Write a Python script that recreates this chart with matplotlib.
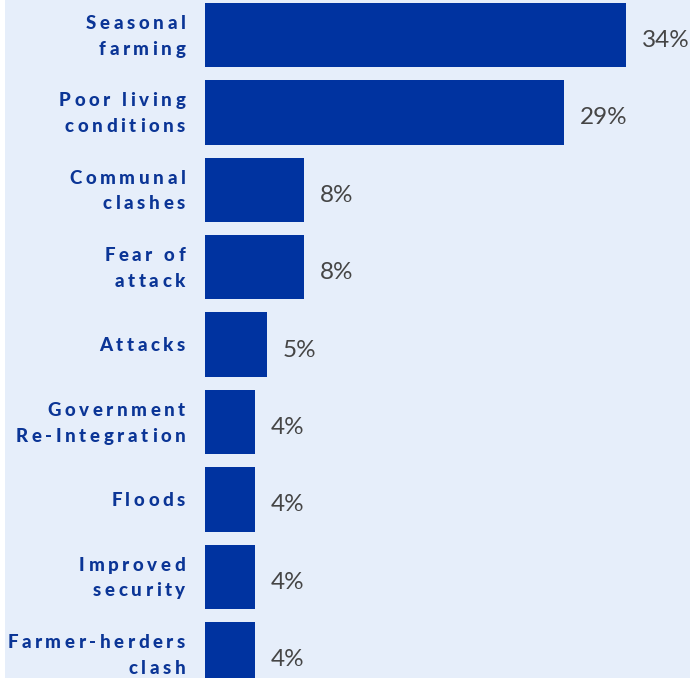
import numpy as np
import matplotlib
matplotlib.use('Agg')
import matplotlib.pyplot as plt
from matplotlib.font_manager import FontProperties
from matplotlib.textpath import TextToPath
from matplotlib.transforms import offset_copy

# data
categories = ['Seasonal\nfarming', 'Poor living\nconditions', 'Communal\nclashes',
              'Fear of\nattack', 'Attacks', 'Government\nRe-Integration',
              'Floods', 'Improved\nsecurity', 'Farmer-herders\nclash']
shares = [34, 29, 8, 8, 5, 4, 4, 4, 4]

bar_color = '#0033A0'
bg_color = '#E6EEFA'
label_color = '#0B3596'
value_color = '#454545'

fig = plt.figure(figsize=(6.9, 6.78), dpi=100)
fig.patch.set_facecolor('white')
ax = fig.add_axes([5 / 690, 0, 685 / 690, 1])
ax.set_facecolor(bg_color)

y = np.arange(len(categories))
ax.barh(y, shares, height=0.83, color=bar_color, edgecolor='none')

# category labels are letter-spaced, so set them one glyph at a time
prop = FontProperties(family='Lato', weight='black', size=13.5)
ttp = TextToPath()
track = 2.6       # extra space between letters, points
line_gap = 18.5   # points between baselines
cap_half = 0.72 * 13.5 / 2


def tracked_label(x, yv, text):
    lines = text.split('\n')
    n = len(lines)
    for j, line in enumerate(lines):
        widths = [ttp.get_text_width_height_descent(c, prop, ismath=False)[0] for c in line]
        total = sum(widths) + track * (len(line) - 1)
        xoff = -total
        yoff = -((j - (n - 1) / 2) * line_gap) - cap_half
        for c, w in zip(line, widths):
            tr = offset_copy(ax.transData, fig=fig, x=xoff, y=yoff, units='points')
            ax.text(x, yv, c, transform=tr, ha='left', va='baseline',
                    fontproperties=prop, color=label_color)
            xoff += w + track


for yi, cat, v in zip(y, categories, shares):
    tracked_label(-1.6, yi, cat)
    ax.text(v + 1.3, yi + 0.07, f'{v}%', ha='left', va='center',
            fontsize=17.5, color=value_color, family=['Lato', 'DejaVu Sans'])

ax.set_xlim(-16.16, 39.18)
ax.set_ylim(8.307, -0.452)
ax.axis('off')
ax.add_patch(plt.Rectangle((0, 0), 1, 1, transform=ax.transAxes,
                           facecolor=bg_color, zorder=-1))

fig.savefig('out.png', dpi=100, facecolor=fig.get_facecolor())
